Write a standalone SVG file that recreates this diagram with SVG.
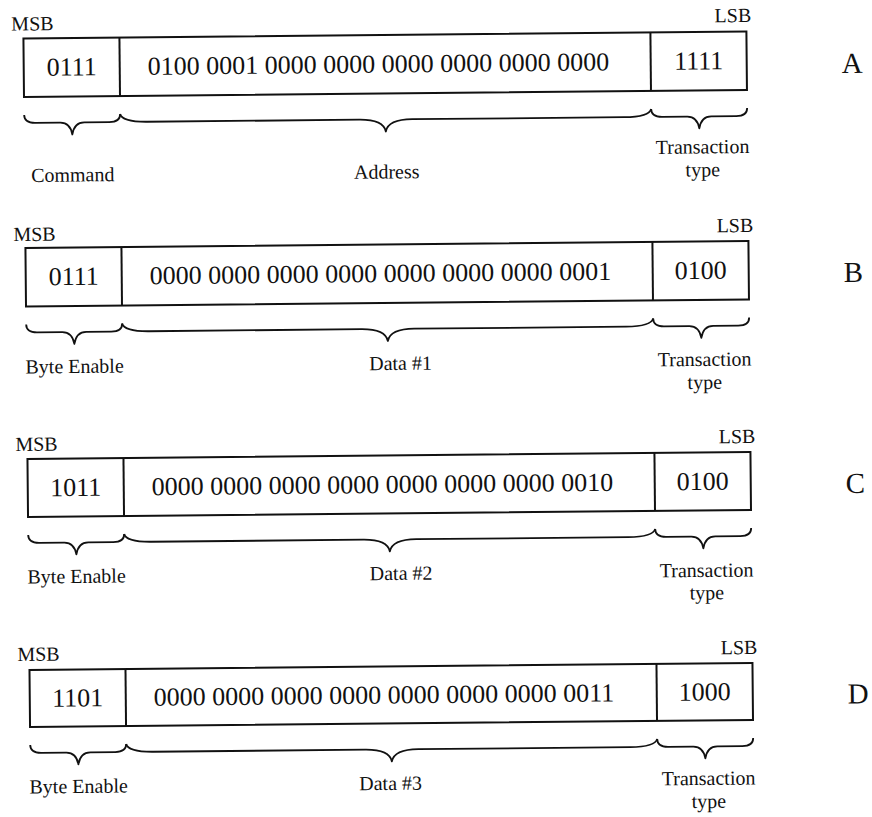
<svg xmlns="http://www.w3.org/2000/svg" width="872" height="817" viewBox="0 0 872 817">
<style>
  .box { fill: none; stroke: #111; stroke-width: 2; }
  .div { stroke: #111; stroke-width: 2; }
  .brace { fill: none; stroke: #111; stroke-width: 1.8; stroke-linejoin: round; }
  text { font-family: "Liberation Serif", "Times New Roman", serif; fill: #111; }
  .big { font-size: 26px; }
  .small { font-size: 20px; }
  .mid { text-anchor: middle; }
  .end { text-anchor: end; }
  .row { font-size: 29px; }
</style>
<rect width="872" height="817" fill="#fff"/>
<g transform="rotate(-0.55 436 408)">
  <!-- Row A -->
  <g id="rowA">
    <text class="small" x="15" y="26.5">MSB</text>
    <text class="small end" x="755" y="25">LSB</text>
    <rect class="box" x="27" y="34.5" width="723" height="58.5"/>
    <line class="div" x1="123" y1="34.5" x2="123" y2="93"/>
    <line class="div" x1="654" y1="34.5" x2="654" y2="93"/>
    <text class="big mid" x="75" y="72">0111</text>
    <text class="big" x="151" y="72">0100 0001 0000 0000 0000 0000 0000 0000</text>
    <text class="big mid" x="702" y="72">1111</text>
    <text class="row" x="845" y="77">A</text>
    <text class="small mid" x="75" y="178">Command</text>
    <text class="small mid" x="389" y="178">Address</text>
    <text class="small mid" x="705" y="156">Transaction</text>
    <text class="small mid" x="705" y="179">type</text>
  </g>
  <!-- Row B -->
  <g id="rowB">
    <text class="small" x="15" y="237">MSB</text>
    <text class="small end" x="755" y="235">LSB</text>
    <rect class="box" x="27" y="244" width="723" height="58.5"/>
    <line class="div" x1="123" y1="244" x2="123" y2="302.5"/>
    <line class="div" x1="654" y1="244" x2="654" y2="302.5"/>
    <text class="big mid" x="75" y="281.5">0111</text>
    <text class="big" x="151" y="281.5">0000 0000 0000 0000 0000 0000 0000 0001</text>
    <text class="big mid" x="702" y="281.5">0100</text>
    <text class="row" x="845" y="286">B</text>
    <text class="small mid" x="75" y="369.5">Byte Enable</text>
    <text class="small mid" x="401" y="369.5">Data #1</text>
    <text class="small mid" x="705" y="368.5">Transaction</text>
    <text class="small mid" x="705" y="391.5">type</text>
  </g>
  <!-- Row C -->
  <g id="rowC">
    <text class="small" x="15" y="447">MSB</text>
    <text class="small end" x="755" y="446">LSB</text>
    <rect class="box" x="27" y="455" width="723" height="58"/>
    <line class="div" x1="123" y1="455" x2="123" y2="513"/>
    <line class="div" x1="654" y1="455" x2="654" y2="513"/>
    <text class="big mid" x="75" y="492.5">1011</text>
    <text class="big" x="151" y="492.5">0000 0000 0000 0000 0000 0000 0000 0010</text>
    <text class="big mid" x="702" y="492.5">0100</text>
    <text class="row" x="845" y="497">C</text>
    <text class="small mid" x="75" y="579.5">Byte Enable</text>
    <text class="small mid" x="399.5" y="579.5">Data #2</text>
    <text class="small mid" x="705" y="579.5">Transaction</text>
    <text class="small mid" x="705" y="602">type</text>
  </g>
  <!-- Row D -->
  <g id="rowD">
    <text class="small" x="15" y="657">MSB</text>
    <text class="small end" x="755" y="657">LSB</text>
    <rect class="box" x="27" y="666" width="723" height="57"/>
    <line class="div" x1="123" y1="666" x2="123" y2="723"/>
    <line class="div" x1="654" y1="666" x2="654" y2="723"/>
    <text class="big mid" x="75" y="703">1101</text>
    <text class="big" x="151" y="703">0000 0000 0000 0000 0000 0000 0000 0011</text>
    <text class="big mid" x="702" y="703">1000</text>
    <text class="row" x="845" y="707.5">D</text>
    <text class="small mid" x="75" y="789.5">Byte Enable</text>
    <text class="small mid" x="387" y="789.5">Data #3</text>
    <text class="small mid" x="705" y="787.5">Transaction</text>
    <text class="small mid" x="705" y="810.5">type</text>
  </g>
  <!-- Braces -->
  <g id="connectors">
    <path class="brace" d="M27,111 Q27,119 38,119 L63,119 Q73,119 75,131 Q77,119 87,119 L112,119 Q123,119 123,111"/>
    <path class="brace" d="M123,111 Q125,119 150,119 L362,119 Q386,119 388.5,131 Q391,119 415,119 L627,119 Q652,119 654,111"/>
    <path class="brace" d="M654,111 Q654,119 665,119 L690,119 Q700,119 702,131 Q704,119 714,119 L739,119 Q750,119 750,111"/>

    <path class="brace" d="M27,320.5 Q27,328.5 38,328.5 L63,328.5 Q73,328.5 75,340.5 Q77,328.5 87,328.5 L112,328.5 Q123,328.5 123,320.5"/>
    <path class="brace" d="M123,320.5 Q125,328.5 150,328.5 L362,328.5 Q386,328.5 388.5,340.5 Q391,328.5 415,328.5 L627,328.5 Q652,328.5 654,320.5"/>
    <path class="brace" d="M654,320.5 Q654,328.5 665,328.5 L690,328.5 Q700,328.5 702,340.5 Q704,328.5 714,328.5 L739,328.5 Q750,328.5 750,320.5"/>

    <path class="brace" d="M27,531 Q27,539 38,539 L63,539 Q73,539 75,551 Q77,539 87,539 L112,539 Q123,539 123,531"/>
    <path class="brace" d="M123,531 Q125,539 150,539 L362,539 Q386,539 388.5,551 Q391,539 415,539 L627,539 Q652,539 654,531"/>
    <path class="brace" d="M654,531 Q654,539 665,539 L690,539 Q700,539 702,551 Q704,539 714,539 L739,539 Q750,539 750,531"/>

    <path class="brace" d="M27,741 Q27,749 38,749 L63,749 Q73,749 75,761 Q77,749 87,749 L112,749 Q123,749 123,741"/>
    <path class="brace" d="M123,741 Q125,749 150,749 L362,749 Q386,749 388.5,761 Q391,749 415,749 L627,749 Q652,749 654,741"/>
    <path class="brace" d="M654,741 Q654,749 665,749 L690,749 Q700,749 702,761 Q704,749 714,749 L739,749 Q750,749 750,741"/>
  </g>
</g>
</svg>
